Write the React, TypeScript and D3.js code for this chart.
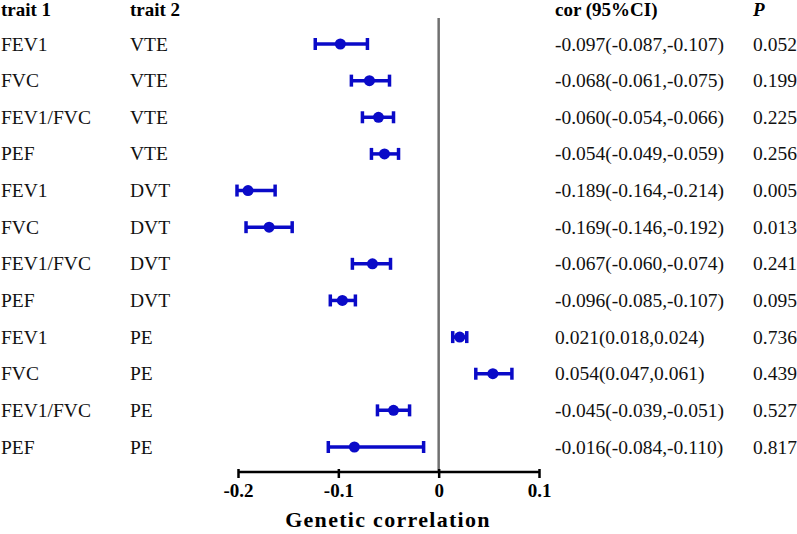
import React, { useRef, useEffect } from "react"
import * as d3 from "d3"

const trait1 = ["FEV1", "FVC", "FEV1/FVC", "PEF", "FEV1", "FVC", "FEV1/FVC", "PEF", "FEV1", "FVC", "FEV1/FVC", "PEF"]
const trait2 = ["VTE", "VTE", "VTE", "VTE", "DVT", "DVT", "DVT", "DVT", "PE", "PE", "PE", "PE"]
const estimate = [-0.098, -0.069, -0.060, -0.054, -0.190, -0.169, -0.066, -0.096, 0.021, 0.054, -0.045, -0.084]
const lower = [-0.123, -0.087, -0.076, -0.067, -0.201, -0.192, -0.086, -0.108, 0.014, 0.037, -0.061, -0.110]
const upper = [-0.071, -0.049, -0.045, -0.040, -0.163, -0.146, -0.048, -0.083, 0.028, 0.073, -0.029, -0.015]
const corText = [
	"-0.097(-0.087,-0.107)",
	"-0.068(-0.061,-0.075)",
	"-0.060(-0.054,-0.066)",
	"-0.054(-0.049,-0.059)",
	"-0.189(-0.164,-0.214)",
	"-0.169(-0.146,-0.192)",
	"-0.067(-0.060,-0.074)",
	"-0.096(-0.085,-0.107)",
	"0.021(0.018,0.024)",
	"0.054(0.047,0.061)",
	"-0.045(-0.039,-0.051)",
	"-0.016(-0.084,-0.110)",
]
const pText = ["0.052", "0.199", "0.225", "0.256", "0.005", "0.013", "0.241", "0.095", "0.736", "0.439", "0.527", "0.817"]
const xTicks = [-0.2, -0.1, 0, 0.1]
const xTickLabels = ["-0.2", "-0.1", "0", "0.1"]

const App = () => {
	const svgRef = useRef<any>()

	useEffect(() => {
		const svg = d3.select(svgRef.current)
		svg.selectAll("*").remove()

		const font = "'Liberation Serif', 'Times New Roman', serif"
		const blue = "#0a0ac8"

		const x = d3.scaleLinear().domain([-0.2, 0.1]).range([238, 539])
		const y = d3
			.scalePoint<number>()
			.domain(d3.range(estimate.length))
			.range([44, 447])

		const rows = d3.range(estimate.length)

		// headers
		const head = svg.append("g").attr("font-family", font).attr("font-size", 19).attr("font-weight", "bold")
		head.append("text").attr("x", 1).attr("y", 16).text("trait 1")
		head.append("text").attr("x", 130).attr("y", 16).text("trait 2")
		head.append("text").attr("x", 555).attr("y", 16).text("cor (95%CI)")
		head.append("text").attr("x", 753).attr("y", 16).attr("font-style", "italic").text("P")

		// table text
		const txt = svg.append("g").attr("font-family", font).attr("font-size", 19.5).attr("fill", "#111")
		const cols: [number, string[]][] = [[1, trait1], [130, trait2], [555, corText], [753, pText]]
		cols.forEach(([cx, vals]) => {
			txt.append("g").selectAll("text").data(rows).join("text")
				.attr("x", cx).attr("y", (i) => y(i)! + 6.5).text((i) => vals[i])
		})

		// zero line
		svg.append("line")
			.attr("x1", x(0)).attr("x2", x(0))
			.attr("y1", 18).attr("y2", 472)
			.attr("stroke", "#707070").attr("stroke-width", 2.5)

		// x axis
		const xAxis = d3.axisBottom(x).tickValues(xTicks).tickSize(7).tickSizeOuter(0)
			.tickFormat((d, i) => xTickLabels[i])
		const ax = svg.append("g").attr("transform", "translate(0, 472)").call(xAxis)
		ax.select(".domain").attr("stroke", "#000").attr("stroke-width", 2.5)
			.attr("d", `M${x(-0.2)},0H${x(0.1)}`)
		ax.selectAll(".tick line").attr("stroke", "#000").attr("stroke-width", 2.5)
			.attr("y1", -3).attr("y2", 6)
		ax.selectAll(".tick text")
			.attr("font-family", font).attr("font-size", 19).attr("font-weight", "bold")
			.attr("fill", "#000").attr("y", 12).attr("dy", "0.71em")

		svg.append("text")
			.attr("x", 388).attr("y", 527)
			.attr("text-anchor", "middle")
			.attr("font-family", font).attr("font-size", 22).attr("font-weight", "bold")
			.attr("letter-spacing", 1.3)
			.text("Genetic correlation")

		// error bars
		const bars = svg.append("g").attr("stroke", blue).attr("fill", blue)
		bars.append("g").selectAll("line").data(rows).join("line")
			.attr("x1", (i) => x(lower[i])).attr("x2", (i) => x(upper[i]))
			.attr("y1", (i) => y(i)!).attr("y2", (i) => y(i)!)
			.attr("stroke-width", 3.5)
		bars.append("g").selectAll("line").data(rows).join("line")
			.attr("x1", (i) => x(lower[i])).attr("x2", (i) => x(lower[i]))
			.attr("y1", (i) => y(i)! - 6).attr("y2", (i) => y(i)! + 6)
			.attr("stroke-width", 3.5)
		bars.append("g").selectAll("line").data(rows).join("line")
			.attr("x1", (i) => x(upper[i])).attr("x2", (i) => x(upper[i]))
			.attr("y1", (i) => y(i)! - 6).attr("y2", (i) => y(i)! + 6)
			.attr("stroke-width", 3.5)
		bars.append("g").selectAll("circle").data(rows).join("circle")
			.attr("cx", (i) => x(estimate[i])).attr("cy", (i) => y(i)!)
			.attr("r", 5.5).attr("stroke", "none")
	}, [])

	return (
		<div style={{ position: "absolute", left: 0, top: 0, width: 797, height: 534, background: "#fff" }}>
			<svg ref={svgRef} width={797} height={534} style={{ display: "block" }}></svg>
		</div>
	)
}

export default App
